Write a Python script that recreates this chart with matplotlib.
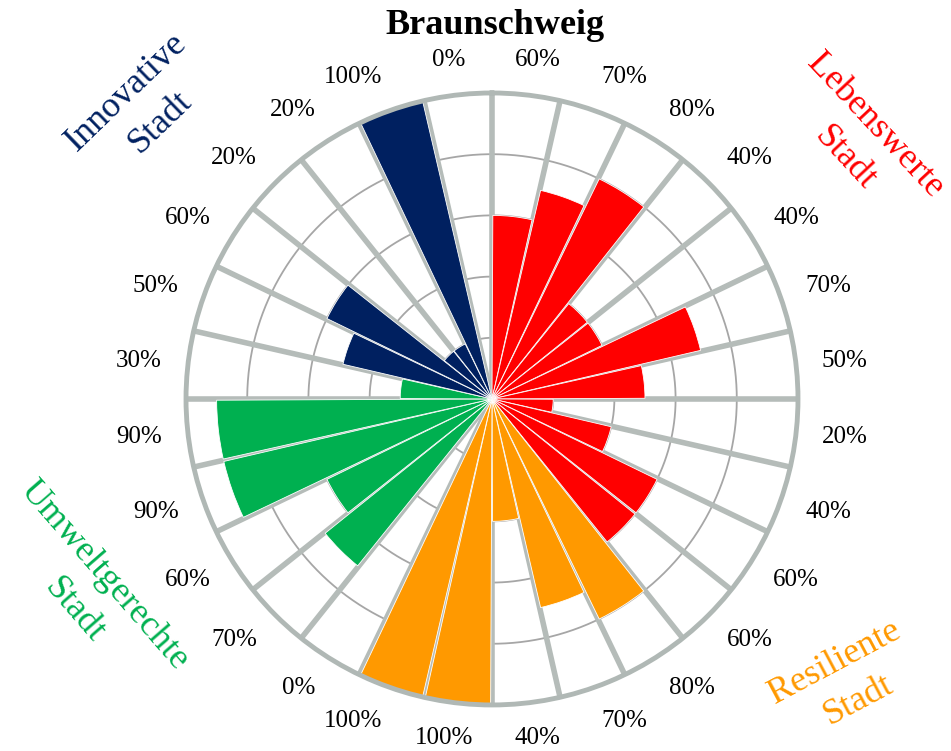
import numpy as np
import matplotlib.pyplot as plt

plt.rcParams['font.family'] = ['Liberation Serif', 'DejaVu Serif']

# values per sector, clockwise from top
values = [60, 70, 80, 40, 40, 70, 50, 20, 40, 60, 60,   # Lebenswerte Stadt
          80, 70, 40, 100, 100, 0,                      # Resiliente Stadt
          70, 60, 90, 90, 30,                           # Umweltgerechte Stadt
          50, 60, 20, 20, 100, 0]                       # Innovative Stadt
groups = ['Lebenswerte', 'Resiliente', 'Umweltgerechte', 'Innovative']
group_sizes = [11, 6, 5, 6]
group_colors = ['#ff0000', '#ff9900', '#00b050', '#002060']

colors = []
for c, n in zip(group_colors, group_sizes):
    colors += [c] * n

n = len(values)
w = 2 * np.pi / n
theta = (np.arange(n) + 0.5) * w

fig = plt.figure(figsize=(9.51, 7.51), dpi=100)
ax = fig.add_axes([0.1956, 0.0613, 0.6435, 0.8149], projection='polar')
ax.set_theta_zero_location('N')
ax.set_theta_direction(-1)
ax.set_ylim(0, 1)
ax.grid(False)
ax.set_xticks([])
ax.set_yticks([])

# rings
t = np.linspace(0, 2 * np.pi, 400)
for r in [0.2, 0.4, 0.6, 0.8]:
    ax.plot(t, np.full_like(t, r), color='#a6a6a6', lw=1.3, zorder=1)
# spokes
for i in range(n):
    ax.plot([i * w, i * w], [0, 1], color='#b5bcb9', lw=4, zorder=2, solid_capstyle='butt')

ax.bar(theta, np.array(values) / 100, width=w * 0.96, color=colors,
       edgecolor='white', linewidth=0.6, zorder=3)

ax.spines['polar'].set_color('#b0b8b5')
ax.spines['polar'].set_linewidth(3.5)
ax.spines['polar'].set_zorder(5)

# percentage labels: anchored just outside the circle, box pushed outward
labels = [fig.text(0, 0, f'{v}%', ha='center', va='center', fontsize=18)
          for v in values]
fig.canvas.draw()
rend = fig.canvas.get_renderer()
p0 = ax.transData.transform((0, 0))
p1 = ax.transData.transform((0, 1))
rpx = np.hypot(*(p1 - p0))
r0 = 1.085 * rpx
inv = fig.transFigure.inverted()
for lab, th in zip(labels, theta):
    bb = lab.get_window_extent(rend)
    s, c = np.sin(th), np.cos(th)
    x = p0[0] + r0 * s + bb.width / 2 * np.clip(s / 0.3, -1, 1)
    y = p0[1] + r0 * c + 9 * c
    lab.set_position(inv.transform((x, y)))

fig.text(495 / 951, 1 - 26 / 751, 'Braunschweig', ha='center', va='center',
         fontsize=26, fontweight='bold')

# group names, two lines each (pixel centres from the top-left)
line1_pos = [(875, 126), (835, 663), (104, 575), (126, 92)]
line2_pos = [(845, 158), (858, 700), (74, 610), (160, 122)]
rotations = [-47, 28, -49, 44]
for g, c, p1_, p2_, rot in zip(groups, group_colors, line1_pos, line2_pos, rotations):
    for txt, (x, y) in [(g, p1_), ('Stadt', p2_)]:
        fig.text(x / 951, 1 - y / 751, txt, color=c, fontsize=26, rotation=rot,
                 ha='center', va='center', rotation_mode='anchor')

plt.savefig('out.png', dpi=100)
